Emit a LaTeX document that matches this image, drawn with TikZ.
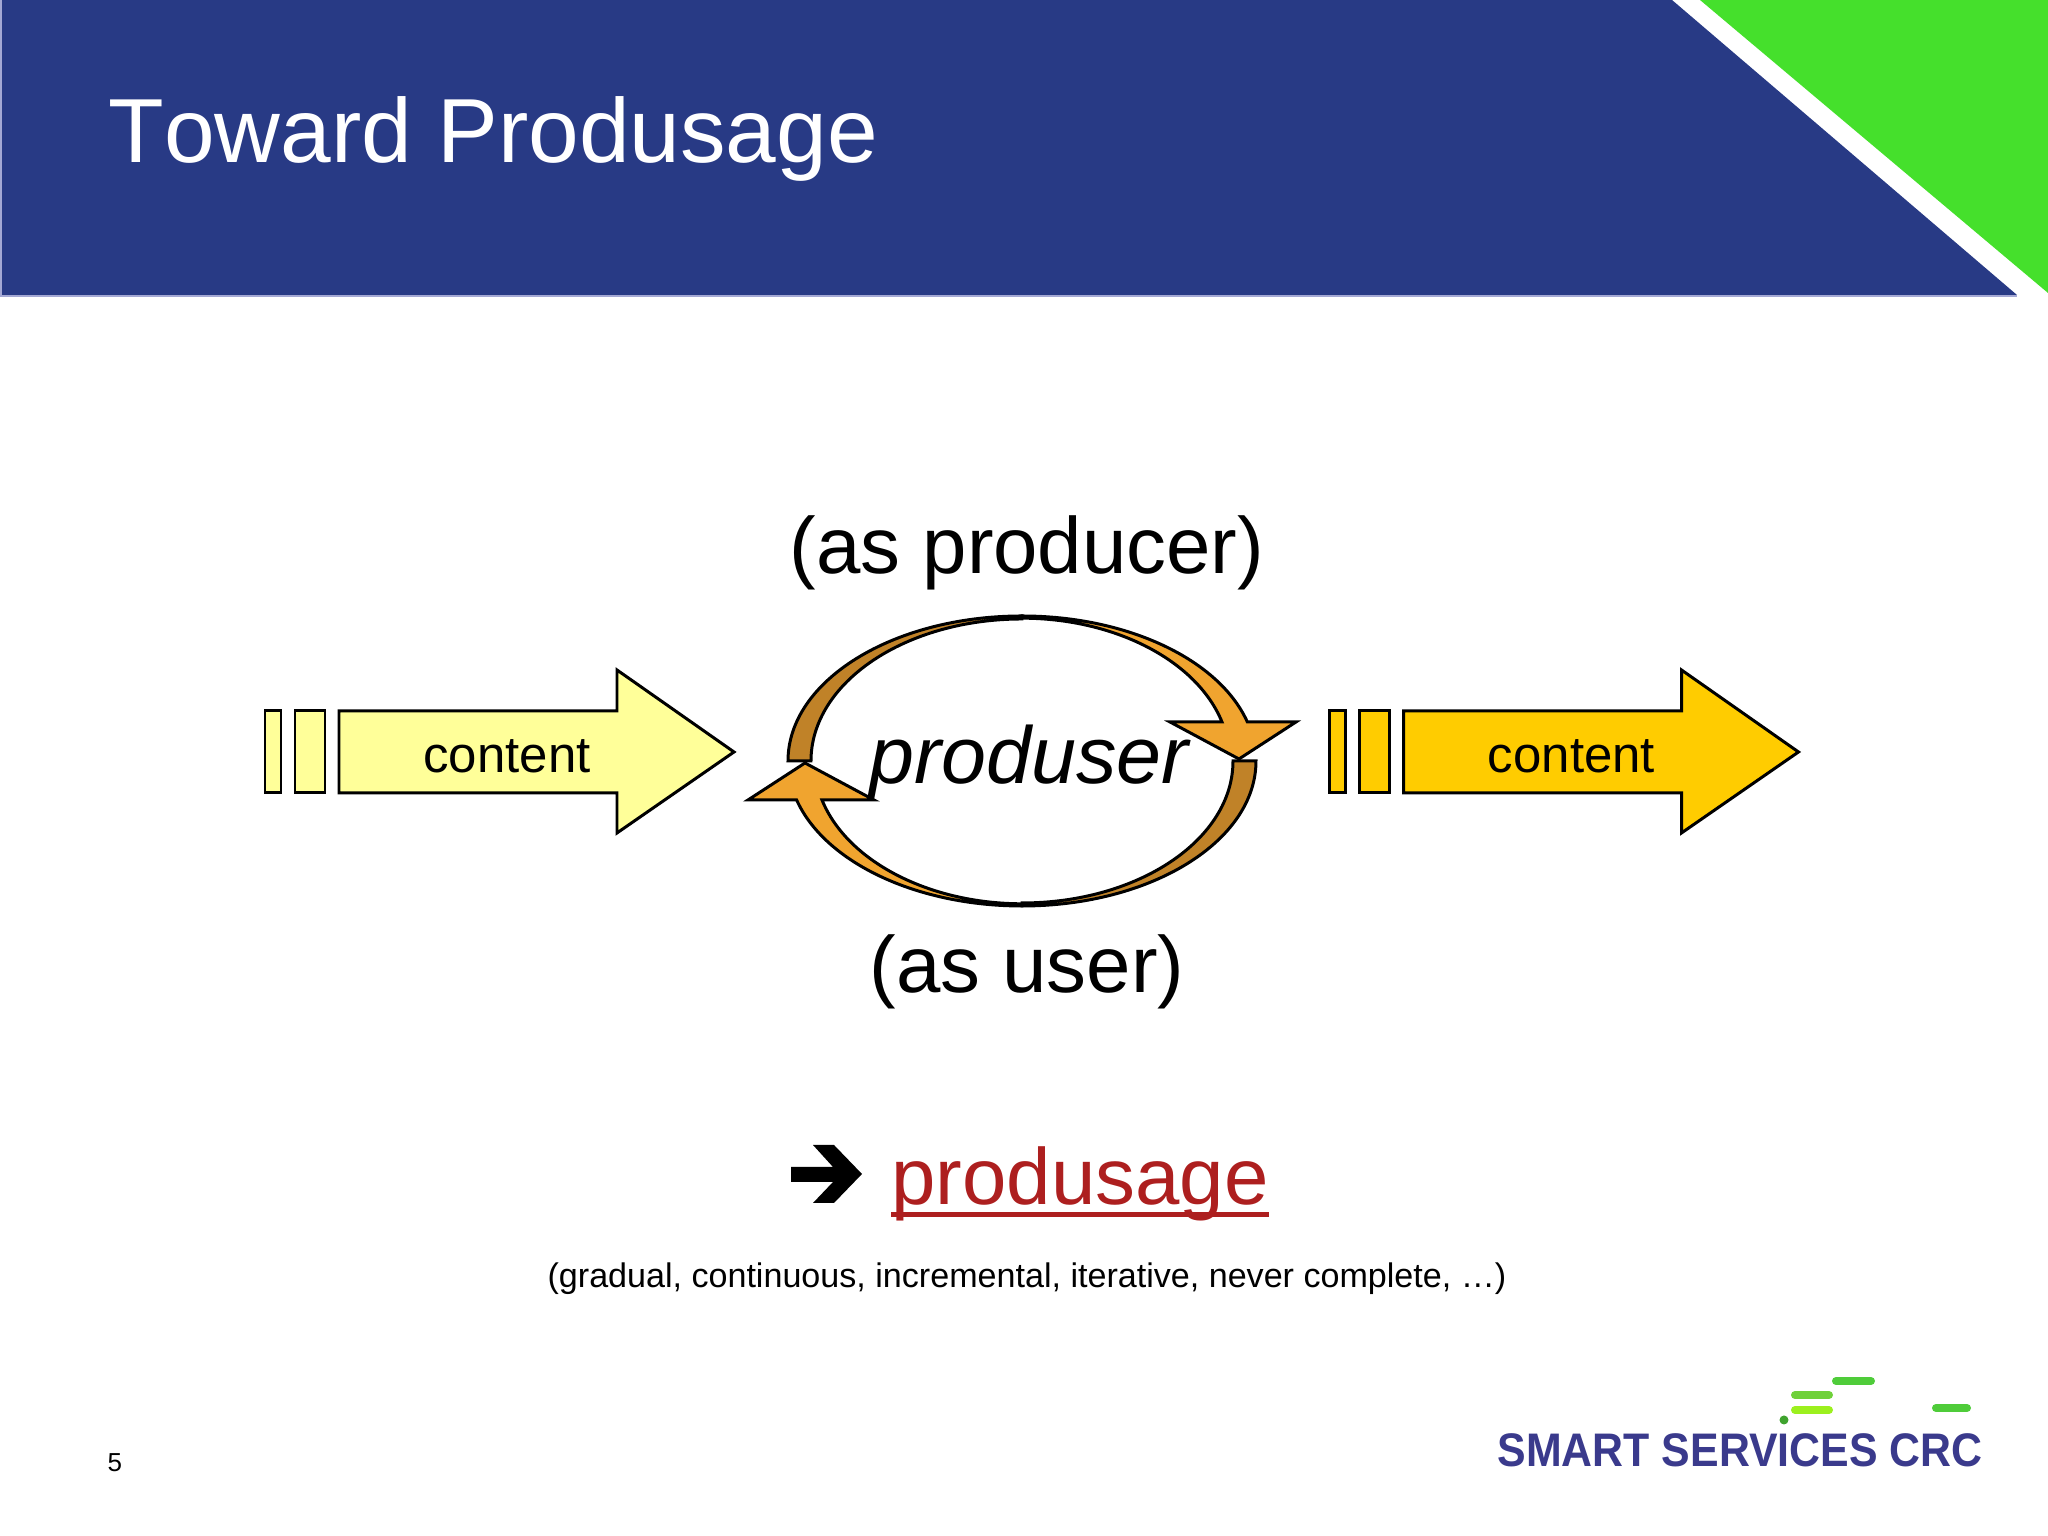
\documentclass[tikz,border=0pt]{standalone}
\usepackage{fontspec}
\setmainfont{Liberation Sans}
\usepackage{tikz}

\definecolor{bannerblue}{HTML}{283A85}
\definecolor{bannergreen}{HTML}{45E02C}
\definecolor{bannerline}{HTML}{A4A8D4}
\definecolor{contentyellow}{HTML}{FFFF99}
\definecolor{contentgold}{HTML}{FFCC00}
\definecolor{ringlight}{HTML}{F0A42F}
\definecolor{ringdark}{HTML}{C08228}
\definecolor{usagered}{HTML}{AD1F1F}
\definecolor{logoblue}{HTML}{3A3A8C}
\definecolor{logogreen}{HTML}{4FCC3A}
\definecolor{logomid}{HTML}{6FD13A}
\definecolor{logolime}{HTML}{9CF01E}

\tikzset{
  textlabel/.style={inner sep=0pt, anchor=base},
  titlelabel/.style={textlabel, anchor=base west, text=white, font=\fontsize{25.9}{30}\selectfont\addfontfeature{Kerning=Off}},
  biglabel/.style={textlabel, font=\fontsize{22.7}{27}\selectfont},
  contentlabel/.style={textlabel, font=\fontsize{14.5}{17}\selectfont},
  outline/.style={draw=black, line width=0.85pt, line join=miter},
  logobar/.style={line width=0.08cm, line cap=round},
}

\begin{document}
\begin{tikzpicture}

    \useasboundingbox (0, 0) rectangle (20.48, 15.36);

    \fill [bannerblue] (0.02, 15.36) -- (16.72, 15.36)
    -- (20.17, 12.41) -- (0.02, 12.41) -- cycle;
    \draw [bannerline, line width=0.02cm] (0.01, 15.36) -- (0.01, 12.40) -- (20.17, 12.40);
    \fill [bannergreen] (17.00, 15.36) -- (20.48, 15.36) -- (20.48, 12.43) -- cycle;

    \node [titlelabel] (title) at (1.08, 13.73) {Toward Produsage};

    \foreach \shift/\col/\name in {0/contentyellow/in, 10.645/contentgold/out} {
      \begin{scope}[xshift=\shift cm]
        \draw [outline, fill=\col] (2.65, 7.43) rectangle (2.81, 8.25);
        \draw [outline, fill=\col] (2.95, 7.43) rectangle (3.25, 8.25);
        \draw [outline, fill=\col] (3.39, 7.43) -- (6.17, 7.43) -- (6.17, 7.03)
        -- (7.34, 7.84) -- (6.17, 8.66) -- (6.17, 8.25) -- (3.39, 8.25) -- cycle;
        \node [contentlabel] (content\name) at (5.07, 7.63) {content};
      \end{scope}
    }

    \foreach \turn in {0, 180} {
      \begin{scope}[rotate around={\turn:(10.22, 7.75)}]
        \draw [outline, fill=ringdark] (7.88, 7.75)
        arc [start angle=180, end angle=90, x radius=2.34, y radius=1.45]
        -- (10.22, 9.17)
        arc [start angle=90, end angle=180, x radius=2.11, y radius=1.42]
        -- cycle;
        \draw [outline, fill=ringlight] (10.22, 9.20)
        arc [start angle=90, end angle=15.6, x radius=2.34, y radius=1.45]
        -- (12.96, 8.14) -- (12.39, 7.77) -- (11.70, 8.14) -- (12.22, 8.14)
        arc [start angle=15.6, end angle=90, x radius=2.08, y radius=1.42]
        -- cycle;
      \end{scope}
    }

    \node [biglabel] (producer) at (10.27, 9.62) {(as producer)};
    \node [biglabel, font=\fontsize{23}{27}\selectfont\itshape] (produser) at (10.29, 7.52) {produser};
    \node [biglabel] (user) at (10.27, 5.43) {(as user)};

    % arrow in front of the result
    \fill (7.91, 3.69) -- (8.33, 3.69) -- (8.13, 3.91) -- (8.34, 3.91)
    -- (8.62, 3.62) -- (8.34, 3.33) -- (8.13, 3.33) -- (8.33, 3.54)
    -- (7.91, 3.54) -- cycle;

    \node [biglabel, text=usagered] (produsage) at (10.80, 3.31) {produsage};
    \fill [usagered] (8.91, 3.19) rectangle (12.69, 3.24);

    \node [textlabel, font=\fontsize{9.7}{12}\selectfont] (qualities) at (10.27, 2.48)
    {(gradual, continuous, incremental, iterative, never complete, …)};

    \node [textlabel, anchor=base west, font=\fontsize{7.4}{9}\selectfont] (pagenumber) at (1.07, 0.64) {5};

    \draw [logobar, color=logogreen] (18.36, 1.55) -- (18.71, 1.55);
    \draw [logobar, color=logomid] (17.95, 1.41) -- (18.29, 1.41);
    \draw [logobar, color=logolime] (17.95, 1.26) -- (18.29, 1.26);
    \draw [logobar, color=logogreen] (19.36, 1.28) -- (19.67, 1.28);
    \fill [logogreen!80!black] (17.84, 1.16) circle (0.045);
    \node [textlabel, anchor=base west, xscale=0.91, transform shape, text=logoblue,
    font=\fontsize{13.4}{16}\selectfont\bfseries] (logo)
    at (14.97, 0.69) {SMART SERVICES CRC};

  \end{tikzpicture}
\end{document}
